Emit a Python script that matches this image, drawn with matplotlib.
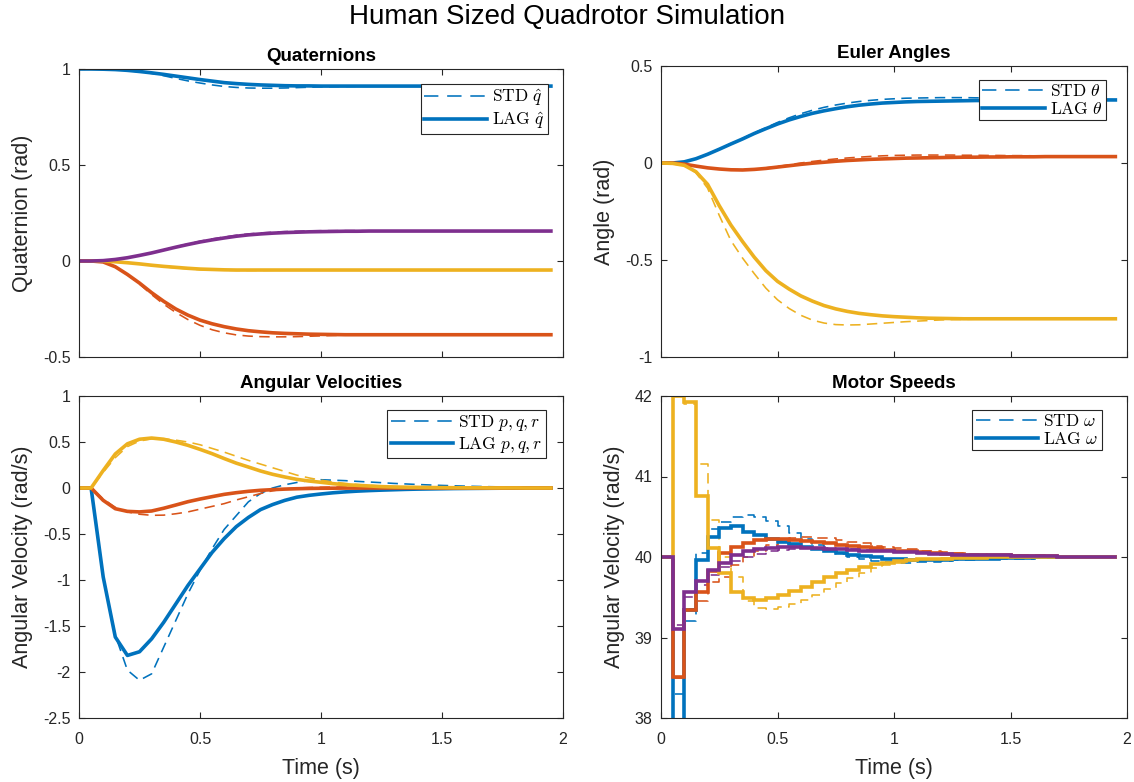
import matplotlib
matplotlib.use("Agg")
import matplotlib.pyplot as plt
from matplotlib.lines import Line2D

plt.rcParams["font.family"] = ["Liberation Sans", "DejaVu Sans"]
plt.rcParams["mathtext.fontset"] = "cm"
plt.rcParams["axes.unicode_minus"] = False

# ---------------- sample times (s) ----------------
t = [0.00, 0.05, 0.10, 0.15, 0.20, 0.25, 0.30, 0.35, 0.40, 0.45,
     0.50, 0.55, 0.60, 0.65, 0.70, 0.75, 0.80, 0.85, 0.90, 0.95,
     1.00, 1.05, 1.10, 1.15, 1.20, 1.25, 1.30, 1.35, 1.40, 1.45,
     1.50, 1.55, 1.60, 1.65, 1.70, 1.75, 1.80, 1.85, 1.90, 1.95]

# ---------------- quaternion components ----------------
q0_lag = [1.0, 1.0, 0.999, 0.997, 0.993, 0.987, 0.980, 0.972, 0.963, 0.954,
          0.945, 0.937, 0.929, 0.924, 0.920, 0.917, 0.915, 0.913, 0.912, 0.912,
          0.911, 0.911, 0.911, 0.911, 0.911, 0.911, 0.911, 0.911, 0.911, 0.911,
          0.911, 0.911, 0.911, 0.911, 0.911, 0.911, 0.911, 0.911, 0.911, 0.911]
q0_std = [1.0, 1.0, 0.999, 0.997, 0.992, 0.985, 0.977, 0.965, 0.951, 0.938,
          0.927, 0.917, 0.909, 0.904, 0.901, 0.900, 0.900, 0.901, 0.903, 0.905,
          0.907, 0.908, 0.909, 0.910, 0.910, 0.911, 0.911, 0.911, 0.911, 0.911,
          0.911, 0.911, 0.911, 0.911, 0.911, 0.911, 0.911, 0.911, 0.911, 0.911]
q1_lag = [0.0, 0.0, -0.005, -0.030, -0.070, -0.115, -0.165, -0.210, -0.250, -0.282,
          -0.308, -0.327, -0.342, -0.354, -0.363, -0.369, -0.374, -0.377, -0.379, -0.381,
          -0.382, -0.383, -0.384, -0.384, -0.384, -0.384, -0.384, -0.384, -0.384, -0.384,
          -0.384, -0.384, -0.384, -0.384, -0.384, -0.384, -0.384, -0.384, -0.384, -0.384]
q1_std = [0.0, 0.0, -0.005, -0.030, -0.072, -0.120, -0.175, -0.225, -0.268, -0.305,
          -0.335, -0.358, -0.374, -0.385, -0.391, -0.394, -0.395, -0.395, -0.394, -0.392,
          -0.390, -0.388, -0.386, -0.385, -0.384, -0.384, -0.384, -0.384, -0.384, -0.384,
          -0.384, -0.384, -0.384, -0.384, -0.384, -0.384, -0.384, -0.384, -0.384, -0.384]
q2_lag = [0.0, 0.0, -0.001, -0.004, -0.009, -0.015, -0.022, -0.028, -0.033, -0.038,
          -0.042, -0.044, -0.046, -0.047, -0.047, -0.047, -0.047, -0.047, -0.047, -0.047,
          -0.047, -0.047, -0.047, -0.047, -0.047, -0.047, -0.047, -0.047, -0.047, -0.047,
          -0.047, -0.047, -0.047, -0.047, -0.047, -0.047, -0.047, -0.047, -0.047, -0.047]
q2_std = [0.0, 0.0, -0.001, -0.004, -0.009, -0.016, -0.023, -0.030, -0.036, -0.041,
          -0.045, -0.047, -0.048, -0.049, -0.049, -0.049, -0.048, -0.048, -0.047, -0.047,
          -0.047, -0.047, -0.047, -0.047, -0.047, -0.047, -0.047, -0.047, -0.047, -0.047,
          -0.047, -0.047, -0.047, -0.047, -0.047, -0.047, -0.047, -0.047, -0.047, -0.047]
q3_lag = [0.0, 0.0, 0.002, 0.008, 0.017, 0.029, 0.042, 0.057, 0.072, 0.086,
          0.099, 0.110, 0.120, 0.129, 0.136, 0.141, 0.145, 0.148, 0.150, 0.152,
          0.153, 0.154, 0.155, 0.155, 0.156, 0.156, 0.156, 0.156, 0.156, 0.156,
          0.156, 0.156, 0.156, 0.156, 0.156, 0.156, 0.156, 0.156, 0.156, 0.156]
q3_std = [0.0, 0.0, 0.002, 0.008, 0.017, 0.029, 0.043, 0.058, 0.074, 0.089,
          0.103, 0.115, 0.125, 0.134, 0.141, 0.146, 0.150, 0.153, 0.155, 0.157,
          0.158, 0.158, 0.158, 0.158, 0.157, 0.157, 0.157, 0.157, 0.156, 0.156,
          0.156, 0.156, 0.156, 0.156, 0.156, 0.156, 0.156, 0.156, 0.156, 0.156]

# ---------------- Euler angles (rad) ----------------
e1_lag = [0.0, 0.0, 0.006, 0.022, 0.045, 0.071, 0.098, 0.124, 0.152, 0.177,
          0.201, 0.222, 0.240, 0.256, 0.269, 0.280, 0.290, 0.298, 0.304, 0.309,
          0.312, 0.315, 0.317, 0.318, 0.319, 0.320, 0.321, 0.322, 0.322, 0.323,
          0.323, 0.323, 0.324, 0.324, 0.324, 0.324, 0.325, 0.325, 0.325, 0.325]
e1_std = [0.0, 0.0, 0.006, 0.022, 0.046, 0.073, 0.100, 0.127, 0.155, 0.182,
          0.209, 0.233, 0.254, 0.272, 0.287, 0.299, 0.309, 0.317, 0.323, 0.328,
          0.331, 0.334, 0.335, 0.336, 0.337, 0.337, 0.337, 0.336, 0.336, 0.335,
          0.334, 0.333, 0.332, 0.331, 0.330, 0.329, 0.328, 0.327, 0.327, 0.326]
e2_lag = [0.0, 0.0, -0.006, -0.016, -0.025, -0.031, -0.035, -0.036, -0.033, -0.028,
          -0.021, -0.014, -0.007, -0.001, 0.004, 0.009, 0.013, 0.016, 0.019, 0.021,
          0.023, 0.025, 0.026, 0.027, 0.028, 0.029, 0.030, 0.030, 0.031, 0.031,
          0.032, 0.032, 0.032, 0.033, 0.033, 0.033, 0.033, 0.033, 0.033, 0.033]
e2_std = [0.0, 0.0, -0.006, -0.016, -0.025, -0.031, -0.034, -0.034, -0.031, -0.025,
          -0.018, -0.009, 0.000, 0.008, 0.015, 0.021, 0.026, 0.030, 0.034, 0.037,
          0.039, 0.040, 0.041, 0.041, 0.041, 0.041, 0.040, 0.040, 0.039, 0.039,
          0.038, 0.038, 0.037, 0.037, 0.037, 0.036, 0.036, 0.036, 0.036, 0.036]
e3_lag = [0.0, -0.002, -0.012, -0.045, -0.110, -0.220, -0.320, -0.405, -0.485, -0.555,
          -0.610, -0.650, -0.685, -0.712, -0.735, -0.752, -0.765, -0.775, -0.782, -0.788,
          -0.792, -0.795, -0.798, -0.800, -0.801, -0.802, -0.803, -0.803, -0.803, -0.803,
          -0.803, -0.803, -0.803, -0.803, -0.803, -0.803, -0.803, -0.803, -0.803, -0.803]
e3_std = [0.0, -0.002, -0.012, -0.050, -0.130, -0.270, -0.400, -0.490, -0.570, -0.645,
          -0.705, -0.750, -0.785, -0.810, -0.825, -0.833, -0.835, -0.834, -0.830, -0.826,
          -0.822, -0.818, -0.815, -0.812, -0.809, -0.807, -0.806, -0.805, -0.804, -0.804,
          -0.803, -0.803, -0.803, -0.803, -0.803, -0.803, -0.803, -0.803, -0.803, -0.803]

# ---------------- body rates p, q, r (rad/s) ----------------
p_lag = [0.0, 0.0, -0.967, -1.62, -1.82, -1.78, -1.64, -1.46, -1.26, -1.06,
         -0.88, -0.70, -0.55, -0.42, -0.32, -0.235, -0.18, -0.135, -0.10, -0.08,
         -0.065, -0.052, -0.042, -0.034, -0.028, -0.023, -0.019, -0.015, -0.012, -0.010,
         -0.008, -0.006, -0.005, -0.004, -0.003, -0.002, -0.002, -0.001, -0.001, -0.001]
p_std = [0.0, 0.0, -0.967, -1.60, -1.98, -2.09, -2.02, -1.73, -1.44, -1.15,
         -0.895, -0.66, -0.45, -0.30, -0.15, -0.06, 0.0, 0.035, 0.06, 0.08,
         0.09, 0.085, 0.08, 0.072, 0.065, 0.058, 0.05, 0.044, 0.038, 0.033,
         0.028, 0.024, 0.02, 0.017, 0.014, 0.012, 0.01, 0.008, 0.006, 0.005]
q_lag = [0.0, 0.0, -0.134, -0.225, -0.254, -0.26, -0.25, -0.22, -0.185, -0.149,
         -0.12, -0.094, -0.069, -0.051, -0.036, -0.025, -0.018, -0.012, -0.008, -0.005,
         -0.003, -0.002, -0.001, -0.001, 0.0, 0.0, 0.0, 0.0, 0.0, 0.0,
         0.0, 0.0, 0.0, 0.0, 0.0, 0.0, 0.0, 0.0, 0.0, 0.0]
q_std = [0.0, 0.0, -0.12, -0.21, -0.26, -0.285, -0.297, -0.295, -0.28, -0.26,
         -0.23, -0.20, -0.17, -0.13, -0.095, -0.06, -0.03, -0.01, 0.0, 0.005,
         0.008, 0.01, 0.01, 0.01, 0.009, 0.008, 0.007, 0.006, 0.005, 0.004,
         0.004, 0.003, 0.003, 0.002, 0.002, 0.002, 0.001, 0.001, 0.001, 0.001]
r_lag = [0.0, 0.0, 0.19, 0.37, 0.48, 0.53, 0.543, 0.53, 0.50, 0.464,
         0.42, 0.373, 0.32, 0.27, 0.228, 0.185, 0.149, 0.12, 0.094, 0.076,
         0.062, 0.047, 0.036, 0.029, 0.022, 0.015, 0.011, 0.009, 0.007, 0.005,
         0.004, 0.003, 0.002, 0.002, 0.001, 0.001, 0.001, 0.0, 0.0, 0.0]
r_std = [0.0, 0.0, 0.17, 0.33, 0.45, 0.51, 0.535, 0.535, 0.52, 0.50,
         0.47, 0.43, 0.39, 0.345, 0.30, 0.26, 0.22, 0.18, 0.14, 0.11,
         0.085, 0.065, 0.05, 0.038, 0.028, 0.021, 0.016, 0.012, 0.009, 0.007,
         0.005, 0.004, 0.003, 0.002, 0.002, 0.001, 0.001, 0.001, 0.0, 0.0]

# ---------------- motor speeds (rad/s), held between samples ----------------
w1_lag = [40.0, 37.6, 39.34, 39.96, 40.25, 40.36, 40.38, 40.31, 40.27, 40.22,
          40.19, 40.16, 40.13, 40.10, 40.07, 40.05, 40.03, 40.01, 40.00, 39.98,
          39.97, 39.96, 39.96, 39.96, 39.96, 39.97, 39.97, 39.98, 39.98, 39.99,
          39.99, 39.99, 40.0, 40.0, 40.0, 40.0, 40.0, 40.0, 40.0, 40.0]
w1_std = [40.0, 38.3, 39.2, 40.05, 40.35, 40.44, 40.50, 40.52, 40.50, 40.45,
          40.38, 40.30, 40.22, 40.15, 40.09, 40.04, 40.00, 39.97, 39.95, 39.94,
          39.93, 39.93, 39.94, 39.94, 39.95, 39.96, 39.96, 39.97, 39.97, 39.98,
          39.98, 39.98, 39.99, 39.99, 39.99, 39.99, 40.0, 40.0, 40.0, 40.0]
w2_lag = [40.0, 38.51, 39.34, 39.57, 39.82, 40.05, 40.13, 40.18, 40.21, 40.22,
          40.22, 40.21, 40.20, 40.19, 40.17, 40.15, 40.14, 40.12, 40.11, 40.09,
          40.08, 40.07, 40.06, 40.05, 40.04, 40.04, 40.03, 40.03, 40.02, 40.02,
          40.01, 40.01, 40.01, 40.01, 40.0, 40.0, 40.0, 40.0, 40.0, 40.0]
w2_std = [40.0, 38.5, 39.35, 39.45, 39.69, 39.75, 39.90, 40.00, 40.07, 40.15,
          40.20, 40.24, 40.25, 40.24, 40.23, 40.21, 40.19, 40.17, 40.14, 40.12,
          40.11, 40.10, 40.08, 40.07, 40.06, 40.05, 40.04, 40.04, 40.03, 40.03,
          40.02, 40.02, 40.02, 40.01, 40.01, 40.01, 40.01, 40.0, 40.0, 40.0]
w3_lag = [40.0, 42.0, 41.93, 40.76, 40.11, 39.80, 39.57, 39.49, 39.47, 39.49,
          39.53, 39.58, 39.63, 39.69, 39.75, 39.80, 39.84, 39.88, 39.91, 39.93,
          39.95, 39.96, 39.97, 39.98, 39.98, 39.99, 39.99, 39.99, 40.0, 40.0,
          40.0, 40.0, 40.0, 40.0, 40.0, 40.0, 40.0, 40.0, 40.0, 40.0]
w3_std = [40.0, 42.0, 41.90, 41.15, 40.46, 40.00, 39.75, 39.45, 39.37, 39.36,
          39.38, 39.41, 39.47, 39.53, 39.60, 39.68, 39.74, 39.80, 39.86, 39.90,
          39.93, 39.95, 39.97, 39.98, 39.99, 39.99, 40.0, 40.0, 40.0, 40.0,
          40.0, 40.0, 40.0, 40.0, 40.0, 40.0, 40.0, 40.0, 40.0, 40.0]
w4_lag = [40.0, 39.10, 39.57, 39.70, 39.84, 39.93, 40.03, 40.07, 40.10, 40.11,
          40.12, 40.12, 40.11, 40.11, 40.10, 40.10, 40.09, 40.08, 40.08, 40.07,
          40.06, 40.06, 40.05, 40.04, 40.04, 40.03, 40.03, 40.02, 40.02, 40.02,
          40.01, 40.01, 40.01, 40.01, 40.0, 40.0, 40.0, 40.0, 40.0, 40.0]
w4_std = [40.0, 39.15, 39.50, 39.65, 39.78, 39.87, 39.95, 40.00, 40.04, 40.07,
          40.09, 40.10, 40.11, 40.11, 40.11, 40.10, 40.10, 40.09, 40.08, 40.08,
          40.07, 40.06, 40.06, 40.05, 40.04, 40.04, 40.03, 40.03, 40.02, 40.02,
          40.02, 40.01, 40.01, 40.01, 40.01, 40.0, 40.0, 40.0, 40.0, 40.0]

x_ticks = [0, 0.5, 1, 1.5, 2]
x_ticklabels = ["0", "0.5", "1", "1.5", "2"]

COLORS = ["#0072BD", "#D95319", "#EDB120", "#7E2F8E"]
AX_COLOR = "#262626"
LW_SOLID = 2.6
LW_DASH = 1.15
DASH = (0, (6.5, 4.0))

fig = plt.figure(figsize=(11.34, 7.82), dpi=100)

W, H = 1134.0, 782.0


def make_axes(x0, x1, y0, y1):
    return fig.add_axes([x0 / W, 1 - y1 / H, (x1 - x0) / W, (y1 - y0) / H])


ax_q = make_axes(79, 563, 69, 357)
ax_e = make_axes(661, 1127, 66, 357)
ax_w = make_axes(79, 563, 396, 718)
ax_m = make_axes(661, 1127, 396, 718)


def style(ax, title, ylabel, yticks, yticklabels, ylim, show_x):
    ax.set_xlim(0, 2)
    ax.set_ylim(*ylim)
    ax.set_xticks(x_ticks)
    ax.set_xticklabels(x_ticklabels if show_x else [])
    ax.set_yticks(yticks)
    ax.set_yticklabels(yticklabels)
    ax.tick_params(direction="in", top=True, right=True, length=4.5, width=0.8,
                   colors=AX_COLOR, labelsize=11.5)
    ax.tick_params(axis="y", pad=6)
    ax.tick_params(axis="x", pad=10)
    for s in ax.spines.values():
        s.set_color(AX_COLOR)
        s.set_linewidth(0.8)
    ax.set_title(title, fontsize=13.5, fontweight="bold", color="black", pad=6)
    ax.set_ylabel(ylabel, fontsize=15.5, color=AX_COLOR, labelpad=7)
    if show_x:
        ax.set_xlabel("Time (s)", fontsize=15.5, color=AX_COLOR, labelpad=8)


def draw_lines(ax, std_list, lag_list, stairs=False):
    for c, y in zip(COLORS, std_list):
        if stairs:
            ax.step(t, y, where="post", color=c, lw=LW_DASH, linestyle=DASH)
        else:
            ax.plot(t, y, color=c, lw=LW_DASH, linestyle=DASH)
    for c, y in zip(COLORS, lag_list):
        if stairs:
            ax.step(t, y, where="post", color=c, lw=LW_SOLID, solid_joinstyle="miter")
        else:
            ax.plot(t, y, color=c, lw=LW_SOLID)


def add_legend(ax, sym, pad_x, pad_y):
    handles = [Line2D([], [], color=COLORS[0], lw=LW_DASH, linestyle=(0, (9.0, 5.5))),
               Line2D([], [], color=COLORS[0], lw=LW_SOLID)]
    labels = [r"$\mathrm{STD}\ %s$" % sym, r"$\mathrm{LAG}\ %s$" % sym]
    leg = ax.legend(handles, labels, loc="upper right", fontsize=12.5,
                    handlelength=3.6, handletextpad=0.3, borderpad=0.2,
                    labelspacing=0.08, borderaxespad=0.0, fancybox=False,
                    framealpha=1.0, edgecolor=AX_COLOR,
                    bbox_to_anchor=(1 - pad_x / ax.bbox.width, 1 - pad_y / ax.bbox.height))
    leg.get_frame().set_linewidth(0.8)
    leg.set_zorder(5)


draw_lines(ax_q, [q0_std, q1_std, q2_std, q3_std], [q0_lag, q1_lag, q2_lag, q3_lag])
style(ax_q, "Quaternions", "Quaternion (rad)", [-0.5, 0, 0.5, 1],
      ["-0.5", "0", "0.5", "1"], (-0.5, 1.0), False)
add_legend(ax_q, r"\hat{q}", 15, 15)

draw_lines(ax_e, [e1_std, e2_std, e3_std], [e1_lag, e2_lag, e3_lag])
style(ax_e, "Euler Angles", "Angle (rad)", [-1, -0.5, 0, 0.5],
      ["-1", "-0.5", "0", "0.5"], (-1.0, 0.5), False)
add_legend(ax_e, r"\theta", 21, 14)

draw_lines(ax_w, [p_std, q_std, r_std], [p_lag, q_lag, r_lag])
style(ax_w, "Angular Velocities", "Angular Velocity (rad/s)",
      [-2.5, -2, -1.5, -1, -0.5, 0, 0.5, 1],
      ["-2.5", "-2", "-1.5", "-1", "-0.5", "0", "0.5", "1"], (-2.5, 1.0), True)
add_legend(ax_w, r"p,q,r", 17, 14)

draw_lines(ax_m, [w1_std, w2_std, w3_std, w4_std], [w1_lag, w2_lag, w3_lag, w4_lag], stairs=True)
style(ax_m, "Motor Speeds", "Angular Velocity (rad/s)", [38, 39, 40, 41, 42],
      ["38", "39", "40", "41", "42"], (38, 42), True)
add_legend(ax_m, r"\omega", 25, 14)

fig.text(0.5, 1 - 17 / H, "Human Sized Quadrotor Simulation", ha="center", va="center",
         fontsize=20, color="black")

fig.savefig("out.png", dpi=100)
